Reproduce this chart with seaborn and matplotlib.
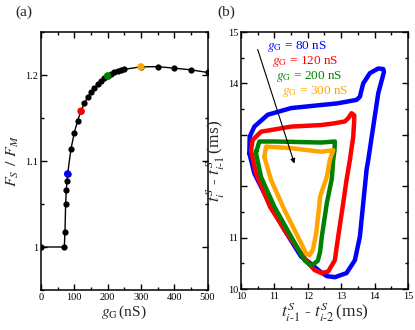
import numpy as np
import pandas as pd
import matplotlib
matplotlib.use("Agg")
import matplotlib.pyplot as plt
from matplotlib.ticker import MultipleLocator, FixedLocator, FixedFormatter
import seaborn as sns

# ---------------- data: panel (a) ----------------
g_values = [0, 70, 72, 74, 76, 78, 80, 90, 100, 110, 120, 130, 140, 150, 160, 170,
            180, 190, 200, 210, 220, 230, 240, 250, 300, 350, 400, 450, 500]
ratio_values = [1.000, 1.000, 1.018, 1.050, 1.066, 1.077, 1.085, 1.114, 1.133, 1.147,
                1.158, 1.167, 1.174, 1.180, 1.185, 1.189, 1.193, 1.196, 1.199, 1.201,
                1.203, 1.2045, 1.206, 1.2066, 1.2095, 1.2097, 1.208, 1.206, 1.203]
highlight_g = [80, 120, 200, 300]
highlight_ratio = [1.085, 1.158, 1.199, 1.2095]
highlight_colors = ["#0000ff", "#ff0000", "#008000", "#ffa500"]

# ---------------- data: panel (b) return maps ----------------
loop_labels = ["80 nS", "120 nS", "200 nS", "300 nS"]
blue_x = [10.25, 10.26, 10.40, 10.80, 11.50, 12.40, 12.87, 13.46, 13.56, 13.60, 13.66,
          13.86, 14.11, 14.26, 14.28, 14.11, 13.96, 13.81, 13.76, 13.66, 13.56, 13.41,
          13.16, 12.81, 12.57, 12.37, 12.02, 11.80, 11.30, 10.80, 10.40, 10.25]
blue_y = [12.64, 12.96, 13.16, 13.39, 13.52, 13.58, 13.61, 13.68, 13.74, 13.85, 14.00,
          14.20, 14.29, 14.28, 14.22, 13.81, 13.16, 12.51, 12.32, 11.67, 11.02, 10.56,
          10.31, 10.23, 10.25, 10.34, 10.53, 10.63, 11.15, 11.73, 12.25, 12.64]
red_x = [10.30, 10.35, 10.60, 11.50, 12.40, 12.76, 13.11, 13.22, 13.31, 13.39, 13.39,
         13.36, 13.26, 13.16, 13.06, 12.91, 12.81, 12.61, 12.41, 12.20, 12.02, 11.37,
         10.87, 10.45, 10.30]
red_y = [12.70, 12.90, 13.06, 13.16, 13.19, 13.22, 13.26, 13.33, 13.42, 13.38, 13.29,
         12.96, 12.51, 12.12, 11.67, 11.02, 10.56, 10.34, 10.31, 10.37, 10.50, 11.08,
         11.60, 12.25, 12.70]
green_x = [10.47, 10.55, 11.00, 12.40, 12.81, 12.80, 12.76, 12.72, 12.57, 12.42, 12.37,
           12.30, 12.10, 11.90, 11.50, 11.00, 10.60, 10.45, 10.47]
green_y = [12.70, 12.87, 12.87, 12.85, 12.87, 12.70, 12.51, 12.15, 11.67, 11.02, 10.73,
           10.55, 10.45, 10.56, 11.02, 11.60, 12.18, 12.64, 12.70]
orange_x = [10.70, 10.75, 11.50, 12.40, 12.76, 12.66, 12.57, 12.37, 12.33, 12.25, 12.15,
            12.05, 11.95, 11.70, 11.30, 10.90, 10.70]
orange_y = [12.57, 12.77, 12.74, 12.67, 12.70, 12.51, 12.18, 11.80, 11.54, 11.08, 10.76,
            10.66, 10.69, 11.02, 11.54, 12.12, 12.57]

loops = [(blue_x, blue_y), (red_x, red_y), (green_x, green_y), (orange_x, orange_y)]

# ---------------- style ----------------
sns.set_style("ticks")
plt.rcParams["font.family"] = ["Liberation Serif", "DejaVu Serif"]
plt.rcParams["mathtext.fontset"] = "stix"
plt.rcParams.update({
    "xtick.direction": "in", "ytick.direction": "in",
    "xtick.top": True, "ytick.right": True,
    "xtick.major.size": 4.5, "ytick.major.size": 4.5,
    "xtick.minor.size": 2.5, "ytick.minor.size": 2.5,
    "xtick.major.width": 1.0, "ytick.major.width": 1.0,
    "xtick.minor.width": 1.0, "ytick.minor.width": 1.0,
    "axes.linewidth": 1.1,
    "axes.edgecolor": "black",
    "xtick.color": "black", "ytick.color": "black",
    "xtick.labelsize": 7.5, "ytick.labelsize": 7.5,
    "xtick.major.pad": 2, "ytick.major.pad": 2,
})

fig = plt.figure(figsize=(4.15, 3.30), dpi=100)
axa = fig.add_axes([0.0988, 0.1212, 0.4012, 0.7818])
axb = fig.add_axes([0.5807, 0.1242, 0.4024, 0.7788])

# ---------------- panel (a) ----------------
dfa = pd.DataFrame({"g": g_values, "r": ratio_values})
sns.lineplot(data=dfa, x="g", y="r", ax=axa, color="black", lw=1.0, marker="o",
             markersize=4.5, markeredgewidth=0, sort=False, estimator=None)
dfh = pd.DataFrame({"g": highlight_g, "r": highlight_ratio, "c": loop_labels})
sns.scatterplot(data=dfh, x="g", y="r", hue="c", palette=highlight_colors, ax=axa,
                s=28, linewidth=0, legend=False, zorder=5)
axa.set_xlim(0, 500)
axa.set_ylim(0.95, 1.25)
axa.xaxis.set_major_locator(MultipleLocator(100))
axa.xaxis.set_minor_locator(MultipleLocator(50))
axa.yaxis.set_major_locator(FixedLocator([1.0, 1.1, 1.2]))
axa.yaxis.set_major_formatter(FixedFormatter(["1", "1.1", "1.2"]))
axa.yaxis.set_minor_locator(MultipleLocator(0.05))
axa.set_xlabel(r"$g_{\mathrm{G}}\,$(nS)", fontsize=11, labelpad=1)
axa.set_ylabel(r"$F_S\;\,/\;\,F_M$", fontsize=11.5, labelpad=3)
axa.tick_params(which="both", top=True, right=True)

# ---------------- panel (b) ----------------
rows = []
for lab, (xs, ys) in zip(loop_labels, loops):
    for i, (xv, yv) in enumerate(zip(xs, ys)):
        rows.append({"loop": lab, "idx": i, "x": xv, "y": yv})
dfb = pd.DataFrame(rows)
for lab, col in zip(loop_labels, highlight_colors):
    sub = dfb[dfb["loop"] == lab]
    sns.lineplot(data=sub, x="x", y="y", ax=axb, color=col, lw=3.2, sort=False,
                 estimator=None, solid_joinstyle="round", solid_capstyle="round")

axb.set_xlim(10, 15)
axb.set_ylim(10, 15)
axb.xaxis.set_major_locator(MultipleLocator(1))
axb.xaxis.set_minor_locator(MultipleLocator(0.5))
axb.yaxis.set_major_locator(FixedLocator([10, 11, 12, 13, 14, 15]))
axb.yaxis.set_major_formatter(FixedFormatter(["10", "11", "", "", "14", "15"]))
axb.yaxis.set_minor_locator(MultipleLocator(0.5))
axb.tick_params(which="both", top=True, right=True)
axb.set_xlabel(r"$t^{S}_{i\text{-}1}$ - $t^{S}_{i\text{-}2}\,$(ms)", fontsize=12.5, labelpad=0)
axb.set_ylabel(r"$t^{S}_{i}$ - $t^{S}_{i\text{-}1}\,$(ms)", fontsize=12.5)
axb.yaxis.set_label_coords(-0.085, 0.5)

# arrow
axb.annotate("", xy=(11.6, 12.44), xytext=(10.5, 14.66),
             arrowprops=dict(arrowstyle="-|>", color="black", lw=0.8,
                             mutation_scale=7, shrinkA=0, shrinkB=0))

# labels
text_x = [10.77, 10.92, 11.04, 11.23]
text_y = [14.66, 14.37, 14.08, 13.79]
for lab, col, tx, ty in zip(loop_labels, highlight_colors, text_x, text_y):
    axb.text(tx, ty, r"$g_{\mathrm{G}}$ = " + lab, color=col, fontsize=9.5,
             ha="left", va="baseline")

fig.text(0.036, 0.962, "(a)", fontsize=11, ha="left", va="center")
fig.text(0.523, 0.962, "(b)", fontsize=11, ha="left", va="center")

fig.savefig("out.png", dpi=100)
